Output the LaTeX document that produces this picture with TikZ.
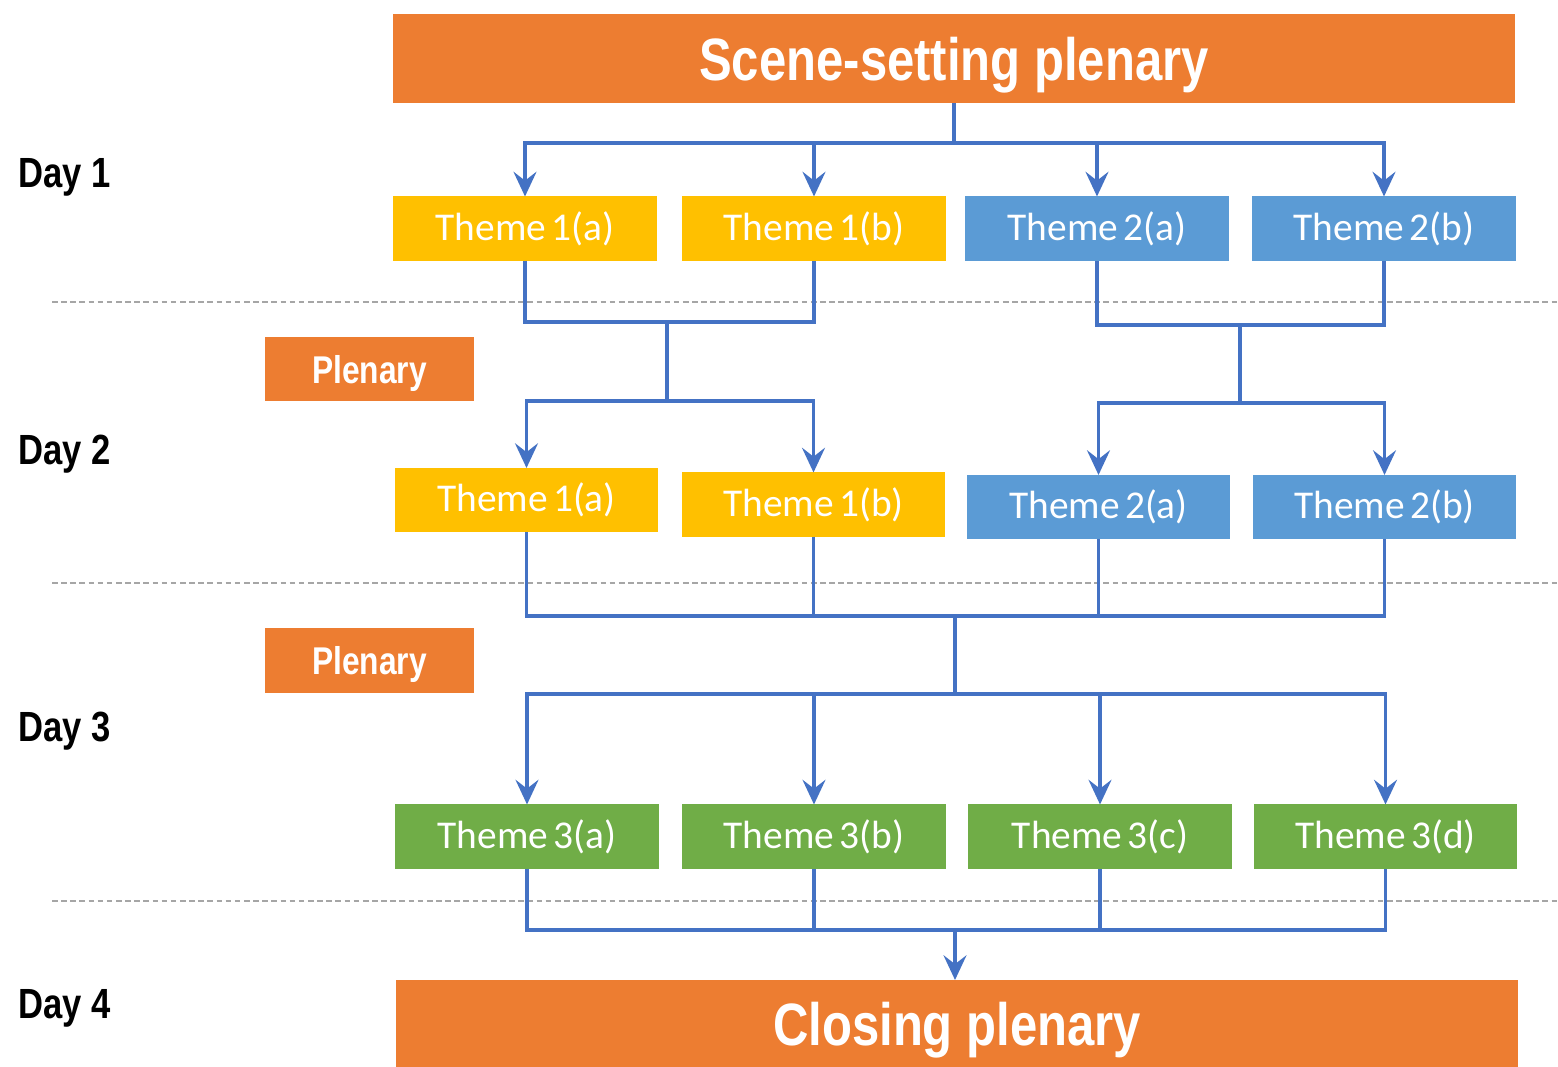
\documentclass[tikz,border=0pt]{standalone}
\usepackage{fontspec}
\usetikzlibrary{arrows.meta}
\newfontfamily\condfont{Liberation Sans}[FakeStretch=0.82]
\newfontfamily\calibfont{Carlito}[WordSpace=0.6]
\definecolor{orangeP}{HTML}{ED7D31}
\definecolor{goldP}{HTML}{FFC000}
\definecolor{blueP}{HTML}{5B9BD5}
\definecolor{greenP}{HTML}{70AD47}
\definecolor{lineP}{HTML}{4472C4}
\definecolor{dotP}{HTML}{A6A6A6}
\tikzset{
  box/.style={inner sep=0pt, outer sep=0pt, text=white},
  bigbox/.style={box, fill=orangeP, minimum width=11.22cm, text depth=0pt, font=\condfont\bfseries\fontsize{17}{20}\selectfont},
  plenbox/.style={box, fill=orangeP, minimum width=2.09cm, minimum height=0.64cm, text depth=0pt, font=\condfont\bfseries\fontsize{11}{13}\selectfont},
  theme/.style={box, minimum width=2.63cm, minimum height=0.64cm, font=\calibfont\fontsize{11.2}{13}\selectfont},
  gold/.style={theme, fill=goldP},
  blu/.style={theme, fill=blueP},
  grn/.style={theme, fill=greenP},
  daylbl/.style={anchor=base west, inner sep=0pt, font=\condfont\bfseries\fontsize{12}{14}\selectfont},
  conn/.style={draw=lineP, line width=1.1pt},
  arr/.style={conn, -{Stealth[length=7pt,width=6.5pt,inset=2.5pt]}},
  sep/.style={draw=dotP, line width=0.7pt, dash pattern=on 1.6pt off 1pt}
}
\begin{document}
\begin{tikzpicture}[x=0.01cm,y=-0.01cm]
\useasboundingbox (0,0) rectangle (1558,1067);
\fill[white] (0,0) rectangle (1558,1067);
% separators
\coordinate (d1l) at (52,302); \coordinate (d1r) at (1558,302);
\coordinate (d2l) at (52,583); \coordinate (d2r) at (1558,583);
\coordinate (d3l) at (52,901); \coordinate (d3r) at (1558,901);
\draw[sep] (d1l) -- (d1r);
\draw[sep] (d2l) -- (d2r);
\draw[sep] (d3l) -- (d3r);
% day labels
\node[daylbl] (day1) at (18,188) {Day 1};
\node[daylbl] (day2) at (18,464) {Day 2};
\node[daylbl] (day3) at (18,741) {Day 3};
\node[daylbl] (day4) at (18,1018) {Day 4};
% big boxes
\node[bigbox, minimum height=0.89cm] (scene) at (954,58.5) {Scene-setting plenary};
\node[bigbox, minimum height=0.87cm] (closing) at (957,1023.5) {Closing plenary};
% plenary boxes
\node[plenbox] (plen1) at (369.5,369) {Plenary};
\node[plenbox] (plen2) at (369.5,660.5) {Plenary};
% day 1
\node[gold] (t1a) at (525,228.5) {Theme 1(a)};
\node[gold] (t1b) at (814,228.5) {Theme 1(b)};
\node[blu]  (t2a) at (1097,228.5) {Theme 2(a)};
\node[blu]  (t2b) at (1384,228.5) {Theme 2(b)};
% day 2
\node[gold] (u1a) at (526.5,500) {Theme 1(a)};
\node[gold] (u1b) at (813.5,504.5) {Theme 1(b)};
\node[blu]  (u2a) at (1098.5,507) {Theme 2(a)};
\node[blu]  (u2b) at (1384.5,507) {Theme 2(b)};
% day 3
\node[grn] (v3a) at (527,836.5) {Theme 3(a)};
\node[grn] (v3b) at (814,836.5) {Theme 3(b)};
\node[grn] (v3c) at (1100,836.5) {Theme 3(c)};
\node[grn] (v3d) at (1385.5,836.5) {Theme 3(d)};
% junction coordinates
\coordinate (j0) at (954,143);
\coordinate (m1) at (667,322);
\coordinate (s1) at (667,401);
\coordinate (m2) at (1240,325);
\coordinate (s2) at (1240,403);
\coordinate (m3) at (955,616);
\coordinate (s3) at (955,694);
\coordinate (m4) at (955,930);
% scene -> day 1
\draw[conn] (scene.south) -- (j0);
\draw[arr] (j0) -| (t1a.north);
\draw[arr] (j0) -| (t1b.north);
\draw[arr] (j0) -| (t2a.north);
\draw[arr] (j0) -| (t2b.north);
% day 1 -> day 2
\draw[conn] (t1a.south) |- (m1) -| (t1b.south);
\draw[conn] (m1) -- (s1);
\draw[arr] (s1) -| (u1a.north);
\draw[arr] (s1) -| (u1b.north);
\draw[conn] (t2a.south) |- (m2) -| (t2b.south);
\draw[conn] (m2) -- (s2);
\draw[arr] (s2) -| (u2a.north);
\draw[arr] (s2) -| (u2b.north);
% day 2 -> day 3
\draw[conn] (u1a.south) |- (m3) -| (u2b.south);
\draw[conn] (u1b.south) -- (u1b.south |- m3);
\draw[conn] (u2a.south) -- (u2a.south |- m3);
\draw[conn] (m3) -- (s3);
\draw[arr] (s3) -| (v3a.north);
\draw[arr] (s3) -| (v3b.north);
\draw[arr] (s3) -| (v3c.north);
\draw[arr] (s3) -| (v3d.north);
% day 3 -> closing
\draw[conn] (v3a.south) |- (m4) -| (v3d.south);
\draw[conn] (v3b.south) -- (v3b.south |- m4);
\draw[conn] (v3c.south) -- (v3c.south |- m4);
\draw[arr] (m4) -- (m4 |- closing.north);
\end{tikzpicture}
\end{document}
